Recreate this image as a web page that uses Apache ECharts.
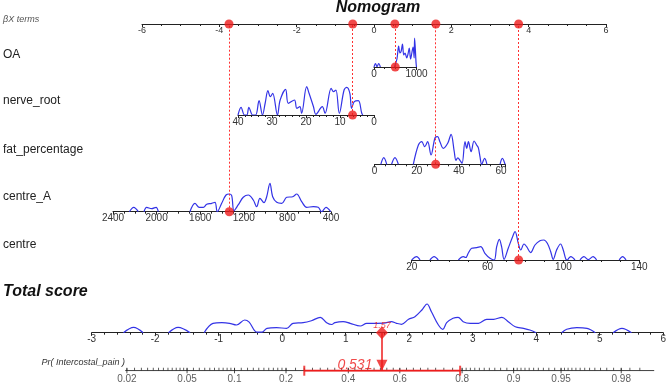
<!DOCTYPE html>
<html>
<head>
<meta charset="utf-8">
<script src="https://cdn.jsdelivr.net/npm/echarts@6/dist/echarts.min.js"></script>
<style>
html, body { margin: 0; padding: 0; background: #fff; }
#chart { width: 669px; height: 383px; }
</style>
</head>
<body>
<div id="chart"></div>
<script>
// ---- data ----
const rowNames = ['OA', 'nerve_root', 'fat_percentage', 'centre_A', 'centre']
const rowValues = [500, 6.3, 29.0, 1333, 76.4]          // patient values (red dots)
const betaTerms = [0.54, -0.55, 1.60, -3.75, 3.74]       // βX of each value
const totalScore = 1.57
const probEstimate = 0.531
const probCI = [0.25, 0.795]
const probTicks = [0.02, 0.05, 0.1, 0.2, 0.4, 0.6, 0.8, 0.9, 0.95, 0.98]
const probRange = [0.0195, 0.988]
// minor ticks on the probability scale: [from, to, step]
const probMinor = [[0.02, 0.05, 0.0025], [0.05, 0.1, 0.005], [0.1, 0.2, 0.01], [0.2, 0.8, 0.025],
  [0.8, 0.9, 0.01], [0.9, 0.95, 0.005], [0.95, 0.9875, 0.0025]]

// density curves, [value, height] per segment
const oaDensity = [
  [[0, 0], [35, 3.5], [70, 0.3], [110, 3.5], [150, 0]],
  [[480, 0], [540, 8], [580, 21], [610, 14], [640, 16], [670, 23], [700, 12], [730, 14], [770, 9],
    [800, 13], [830, 19], [860, 8], [890, 14], [920, 20], [945, 9], [955, 29], [990, 4], [1000, 0]]
]
const nerveDensity = [
  [[40, 0], [39.1, 7.7], [38.1, 0], [37.4, 0], [36.8, 7.7], [35.7, 0], [34.8, 0], [33.8, 14.3], [32.8, 0],
    [32, 12], [31.2, 24.3], [30.5, 18.3], [29.8, 21.7], [28.4, 0], [27.6, 15], [26, 25.7], [25.2, 11.7],
    [23.4, 15], [22.7, 6.7], [21.8, 8.3], [21.3, 1.7], [19.8, 28.3], [19.1, 21.7], [17.8, 8.3], [17.1, 0.7],
    [15.2, 8.3], [14.4, 1.7], [12.6, 26.7], [11.9, 23.3], [11.2, 25], [10.2, 1.7], [8.8, 25], [8.0, 27.7],
    [7.1, 21.7], [6.6, 6.7], [5.8, 13.3], [4.6, 14.3], [3.6, 1.7], [3.3, 0]]
]
const fatDensity = [
  [[3.0, 0], [4.4, 6.6], [5.8, 0]],
  [[8.1, 0], [9.7, 6.6], [11.3, 0]],
  [[18.4, 0], [20.8, 19.3], [22.4, 22.6], [23.8, 17.6], [25.2, 22.6], [26.8, 9.3], [28.7, 26.6], [29.9, 27.6],
    [31.0, 22.6], [32.6, 16], [34.7, 21], [36.3, 30], [37.8, 12.6], [38.6, 4], [39.5, 6.5], [40.5, 4],
    [41.5, 1], [42.9, 22.6], [43.7, 16], [44.5, 22.6], [45.8, 12.6], [47.2, 23.3], [48.4, 19.3], [49.2, 16.6],
    [50.0, 7.6], [50.8, 0], [52.2, 6], [53.3, 0]],
  [[59.5, 0], [60.6, 6], [61.9, 0]]
]
const centreADensity = [
  [[2250, 0], [2210, 4.4], [2168, 0]],
  [[2116, 0], [2091, 4.4], [2045, 3.0], [2005, 4.4], [1984, 0]],
  [[1694, 0], [1648, 8.4], [1608, 4.4], [1571, 4.4], [1540, 7.4], [1494, 8.4], [1464, 9.4], [1443, 0],
    [1403, 8.4], [1363, 16.7], [1333, 17.7], [1311, 16], [1290, 1], [1250, 7], [1205, 14.4], [1159, 16.7],
    [1113, 11.7], [1082, 5], [1052, 13.4], [1015, 9], [990, 15], [960, 28.4], [935, 15], [898, 9.4],
    [852, 8.4], [806, 14.4], [751, 15], [715, 17.7], [669, 10], [623, 4.4], [562, 5], [517, 4.4],
    [486, 0], [446, 4.4], [403, 0]]
]
const centreDensity = [
  [[20, 0], [22.6, 3.3], [24.4, 0]],
  [[29.6, 0], [31.8, 3.3], [34, 0]],
  [[44.6, 0], [47.2, 3.3], [48.5, 2.5], [49.8, 6.7], [51.6, 11.7], [54.3, 12.3], [56.4, 13.3], [58.6, 6.7],
    [61.3, 1.7], [63.5, 0], [64.8, 13.3], [66.2, 20.7], [67.4, 13.3], [68.7, 0.7], [70.9, 11.7], [73.2, 23.3],
    [74.5, 28.3], [76.2, 16.7], [77.5, 10], [79.2, 16], [80.6, 13.3], [82.7, 7.3], [85, 15], [87.6, 19.3],
    [89.7, 20], [91.5, 16.7], [93.3, 8.3], [94.6, 0.7], [96.4, 10], [98.5, 16], [99.9, 10], [101.3, 0.7], [102, 0]],
  [[102.2, 0], [103.9, 3.3], [106.1, 0]],
  [[108.7, 0], [110.8, 3.3], [113.1, 0.3], [115.6, 3.3], [117.5, 0]],
  [[129.4, 0], [131.2, 3.3], [133, 0]]
]
const totalDensity = [
  [[-2.50, 0], [-2.34, 5.4], [-2.19, 0]],
  [[-1.79, 0], [-1.64, 5.4], [-1.45, 0]],
  [[-1.23, 0], [-1.09, 9.4], [-0.95, 10], [-0.83, 9.4], [-0.72, 7.7], [-0.59, 12.7], [-0.52, 10.5], [-0.40, 0.5],
    [-0.32, 0.5], [-0.24, 4.4], [-0.09, 5], [0.07, 4.4], [0.17, 9.4], [0.33, 10], [0.46, 12], [0.60, 15.4],
    [0.70, 10], [0.78, 8.2], [0.83, 10], [0.96, 11], [1.07, 9.4], [1.23, 6.7], [1.33, 9.4], [1.49, 9.4],
    [1.60, 9.5], [1.72, 11], [1.80, 9.4], [1.88, 8.4], [1.99, 13.4], [2.09, 16], [2.20, 22.7], [2.28, 28.7],
    [2.35, 21], [2.46, 7.7], [2.53, 3.4], [2.59, 10], [2.69, 14.4], [2.77, 15.4], [2.85, 11], [2.96, 9.4],
    [3.09, 9.4], [3.22, 13.4], [3.33, 13.4], [3.46, 15.4], [3.56, 11], [3.67, 6], [3.80, 4.4], [3.90, 2.7], [4.0, 0]],
  [[4.40, 0], [4.48, 3.4], [4.64, 5], [4.80, 4.4], [4.93, 0]],
  [[5.21, 0], [5.35, 4.4], [5.50, 0]]
]

// axis scales: [min, max, interval, inverse, minor splits]
const betaAxis = [-6, 6, 2, false, 4]
const rowAxes = [
  [0, 1000, 1000, false, 4],
  [0, 40, 10, true, 5],
  [0, 62, 20, false, 4],
  [400, 2400, 400, true, 4],
  [20, 140, 40, false, 4]
]
const totalAxis = [-3, 6, 1, false, 5]
const rowDensities = [oaDensity, nerveDensity, fatDensity, centreADensity, centreDensity]

// ---- layout ----
const FONT = '"Liberation Sans", Arial, sans-serif'
const RED = '#ee1c1c'
const BLUE = '#3333e6'
const grids = [
  { left: 142, width: 464, top: 0, height: 24 },
  { left: 374, width: 42.5, top: 24, height: 43 },
  { left: 238, width: 136, top: 24, height: 91 },
  { left: 374.5, width: 130.8, top: 24, height: 140.3 },
  { left: 113, width: 218, top: 24, height: 187.7 },
  { left: 411.7, width: 227.6, top: 24, height: 236 },
  { left: 91.7, width: 571.6, top: 290, height: 42.7 },
  { left: 91.7, width: 571.6, top: 332.7, height: 38 }
]
const rowLabelY = [55, 101, 150, 197, 245]

const logit = p => Math.log(p / (1 - p))
const offset = totalScore - logit(probEstimate)
const toScore = p => logit(p) + offset

function makeAxis(gridIndex, cfg, fontSize) {
  const onGrid = (cfg[1] - cfg[0]) % cfg[2] === 0
  return {
    type: 'value', gridIndex: gridIndex, position: 'bottom',
    min: cfg[0], max: cfg[1], interval: cfg[2], inverse: cfg[3],
    axisLine: { show: true, onZero: false, lineStyle: { color: '#222', width: 1 } },
    axisTick: { show: true, length: 3, lineStyle: { color: '#222' } },
    minorTick: { show: true, splitNumber: cfg[4], length: 2, lineStyle: { color: '#222' } },
    axisLabel: {
      fontSize: fontSize, color: '#333', margin: 2, fontFamily: FONT,
      showMaxLabel: onGrid, formatter: v => String(v)
    },
    splitLine: { show: false },
    minorSplitLine: { show: false }
  }
}

function flatten(segments) {
  const out = []
  segments.forEach((s, i) => {
    if (i > 0) out.push(['-', '-'])
    s.forEach(p => out.push(p))
  })
  return out
}

function densitySeries(gridIndex, segments) {
  return {
    type: 'line', xAxisIndex: gridIndex, yAxisIndex: gridIndex,
    data: flatten(segments), smooth: 0.35, showSymbol: false, connectNulls: false,
    lineStyle: { color: BLUE, width: 1.2 }, z: 3, silent: true
  }
}

const xAxes = [makeAxis(0, betaAxis, 9)]
rowAxes.forEach((a, i) => xAxes.push(makeAxis(i + 1, a, 10)))
xAxes.push(makeAxis(6, totalAxis, 10))
xAxes.push({ type: 'value', gridIndex: 7, min: totalAxis[0], max: totalAxis[1], show: false })

const yAxes = grids.map((g, i) => ({
  type: 'value', gridIndex: i, min: 0, max: (i === 0 || i === 7) ? 1 : g.height, show: false
}))

const series = []
// red points on βX axis
series.push({
  type: 'scatter', xAxisIndex: 0, yAxisIndex: 0, data: betaTerms.map(b => [b, 0]),
  symbolSize: 9, itemStyle: { color: RED }, z: 10, silent: true
})
// rows
rowNames.forEach((name, i) => {
  series.push(densitySeries(i + 1, rowDensities[i]))
  series.push({
    type: 'scatter', xAxisIndex: i + 1, yAxisIndex: i + 1, data: [[rowValues[i], 0]],
    symbolSize: 9, itemStyle: { color: RED }, z: 10, silent: true,
    markLine: {
      silent: true, symbol: ['none', 'none'], label: { show: false }, z: 4,
      lineStyle: { color: '#ff3030', type: [2, 2], width: 1, opacity: 1 },
      emphasis: { disabled: true },
      data: [{ xAxis: rowValues[i] }]
    }
  })
})
// total score
series.push(densitySeries(6, totalDensity))
series.push({
  type: 'scatter', xAxisIndex: 6, yAxisIndex: 6, data: [[totalScore, 0]],
  symbol: 'diamond', symbolSize: [12, 13], itemStyle: { color: RED }, z: 10, silent: true,
  label: {
    show: true, position: 'top', distance: -4, formatter: totalScore.toFixed(2),
    color: RED, fontSize: 9, fontStyle: 'italic', fontFamily: FONT
  }
})
// probability axis
series.push({
  type: 'line', xAxisIndex: 7, yAxisIndex: 7, showSymbol: false, silent: true,
  data: probRange.map(p => [toScore(p), 0]), lineStyle: { color: '#222', width: 1 }, z: 2
})
const minorTicks = []
probMinor.forEach(([a, b, s]) => {
  for (let p = a; p < b - 1e-9; p += s) minorTicks.push([toScore(p), 0])
})
series.push({
  type: 'scatter', xAxisIndex: 7, yAxisIndex: 7, data: minorTicks, silent: true,
  symbol: 'rect', symbolSize: [1, 3], symbolOffset: [0, -1.5], itemStyle: { color: '#333' }, z: 2
})
series.push({
  type: 'scatter', xAxisIndex: 7, yAxisIndex: 7, silent: true,
  data: probTicks.map(p => ({ value: [toScore(p), 0], name: String(p) })),
  symbol: 'rect', symbolSize: [1, 5], symbolOffset: [0, 0], itemStyle: { color: '#222' }, z: 2,
  label: { show: true, position: 'bottom', distance: 1, formatter: '{b}', fontSize: 10, color: '#333', fontFamily: FONT }
})
// confidence interval
series.push({
  type: 'line', xAxisIndex: 7, yAxisIndex: 7, showSymbol: false, silent: true,
  data: probCI.map(p => [toScore(p), 0]), lineStyle: { color: RED, width: 2 }, z: 6
})
series.push({
  type: 'scatter', xAxisIndex: 7, yAxisIndex: 7, silent: true,
  data: probCI.map(p => [toScore(p), 0]), symbol: 'rect', symbolSize: [2, 10],
  itemStyle: { color: RED }, z: 6
})
// estimate arrow
series.push({
  type: 'scatter', xAxisIndex: 7, yAxisIndex: 7, silent: true,
  data: [[totalScore, 0]], symbol: 'triangle', symbolRotate: 180, symbolSize: [11, 11],
  symbolOffset: [0, -5.5], itemStyle: { color: RED }, z: 8,
  label: {
    show: true, position: 'left', distance: 4, formatter: probEstimate.toFixed(3),
    color: RED, fontSize: 14, fontStyle: 'italic', fontFamily: FONT
  },
  markLine: {
    silent: true, symbol: ['none', 'none'], label: { show: false },
    lineStyle: { color: RED, type: 'solid', width: 1.5 },
    emphasis: { disabled: true },
    data: [{ xAxis: totalScore }]
  }
})

const graphic = [
  { type: 'text', style: { text: 'βX terms', x: 3, y: 19, font: 'italic 9px ' + FONT, fill: '#555', verticalAlign: 'middle' } },
  { type: 'text', style: { text: 'Nomogram', x: 378, y: 8, font: 'italic bold 16px ' + FONT, fill: '#111', align: 'center', verticalAlign: 'middle' } },
  { type: 'text', style: { text: 'Total score', x: 3, y: 292, font: 'italic bold 16px ' + FONT, fill: '#111', verticalAlign: 'middle' } },
  { type: 'text', style: { text: 'Pr( Intercostal_pain )', x: 125, y: 362, font: 'italic 9px ' + FONT, fill: '#333', align: 'right', verticalAlign: 'middle' } }
]
rowNames.forEach((name, i) => {
  graphic.push({ type: 'text', style: { text: name, x: 3, y: rowLabelY[i], font: '12px ' + FONT, fill: '#222', verticalAlign: 'middle' } })
})

const chart = echarts.init(document.getElementById('chart'))
chart.setOption({
  animation: false,
  backgroundColor: '#fff',
  grid: grids,
  xAxis: xAxes,
  yAxis: yAxes,
  series: series,
  graphic: graphic
})
</script>
</body>
</html>
